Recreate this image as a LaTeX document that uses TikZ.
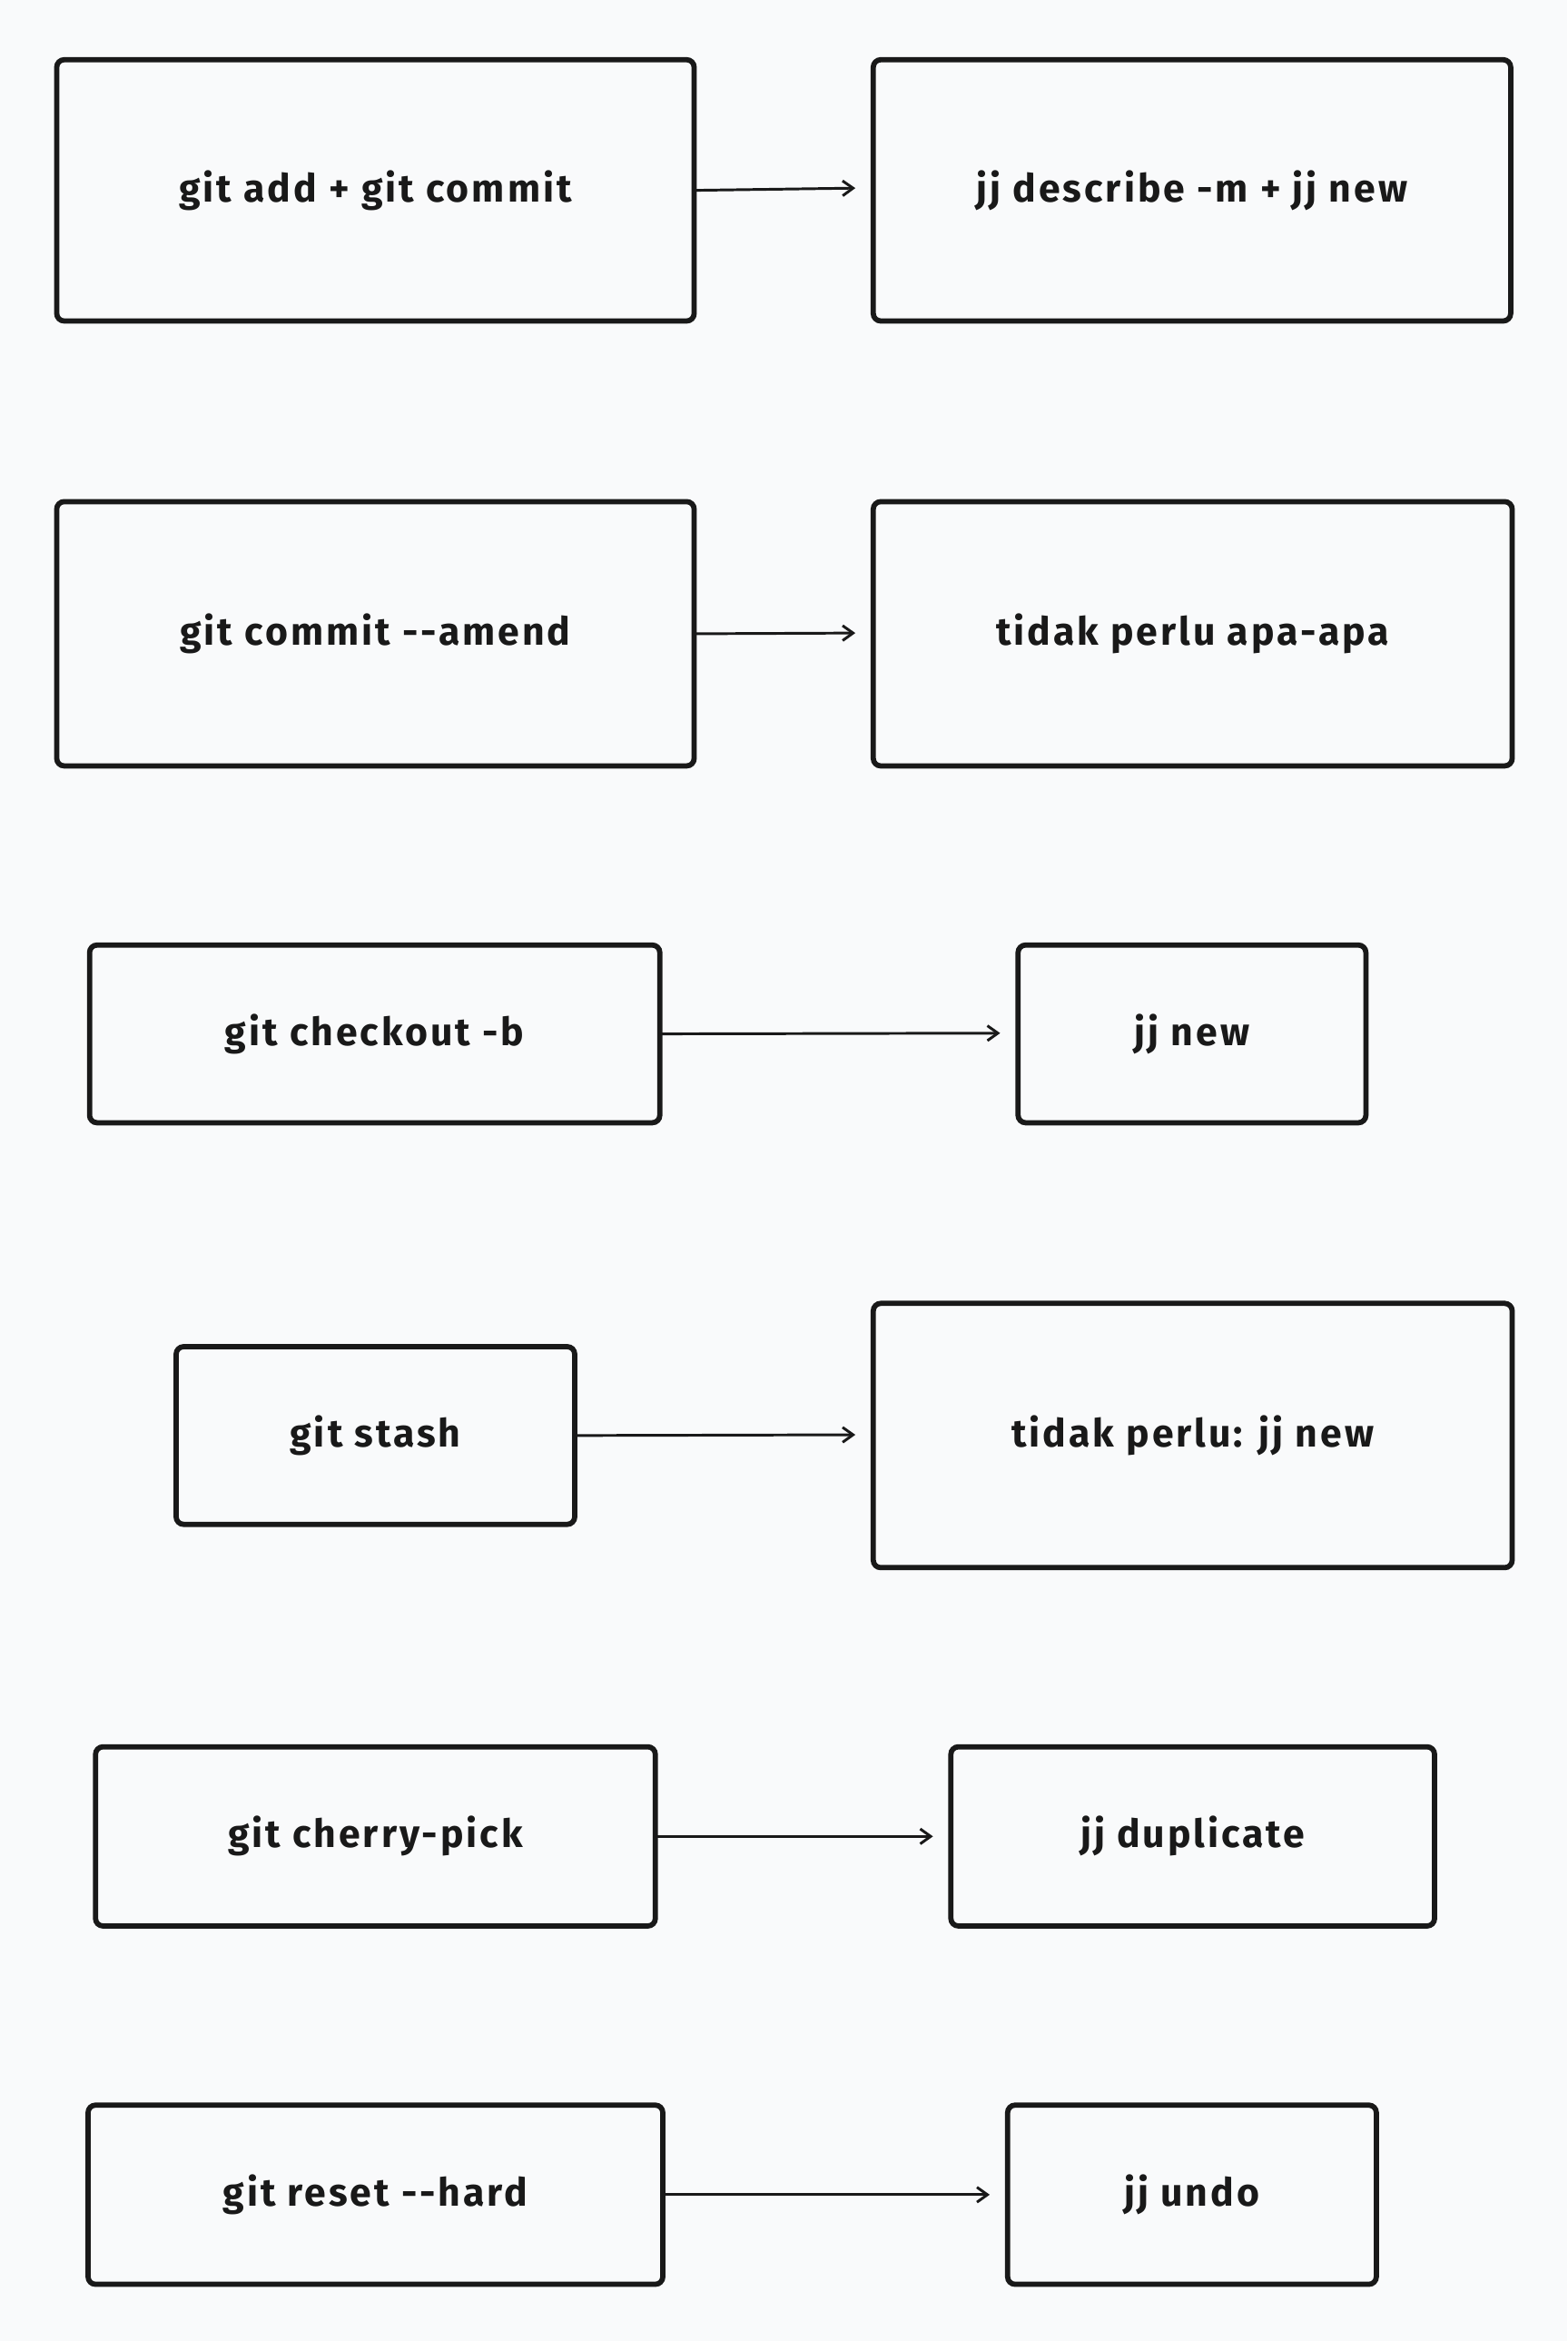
\documentclass[tikz,border=0pt]{standalone}
\usepackage{fontspec}
\setmainfont[LetterSpace=7]{Fira Sans}
\usetikzlibrary{arrows.meta}
\begin{document}
\begin{tikzpicture}[x=1pt,y=-1pt,
  box/.style={draw=black!90,line width=3.5pt,rounded corners=5pt},
  lbl/.style={font=\fontsize{26}{30}\selectfont\bfseries,text=black!90},
  arr/.style={draw=black!90,line width=1.8pt,-{Straight Barb[length=7pt,width=10pt]}}]
\fill[fill={rgb,255:red,249;green,250;blue,251}] (0,0) rectangle (1050,1568);
\useasboundingbox (0,0) rectangle (1050,1568);
\newcommand\bx[6]{\draw[box] (#2,#3) rectangle (#4,#5);
  \node[lbl] (#1) at ({(#2+#4)/2},{(#3+#5)/2}) {#6};
  \coordinate (#1w) at (#2,{(#3+#5)/2}); \coordinate (#1e) at (#4,{(#3+#5)/2});}
\bx{a1}{38}{40}{465}{215}{git add + git commit}
\bx{b1}{585}{40}{1012}{215}{jj describe -m + jj new}
\bx{a2}{38}{336}{465}{513}{git commit -{}-amend}
\bx{b2}{585}{336}{1013}{513}{tidak perlu apa-apa}
\bx{a3}{60}{633}{442}{752}{git checkout -b}
\bx{b3}{682}{633}{915}{752}{jj new}
\bx{a4}{118}{902}{385}{1021}{git stash}
\bx{b4}{585}{873}{1013}{1050}{tidak perlu: jj new}
\bx{a5}{64}{1170}{439}{1290}{git cherry-pick}
\bx{b5}{637}{1170}{961}{1290}{jj duplicate}
\bx{a6}{59}{1410}{444}{1530}{git reset -{}-hard}
\bx{b6}{675}{1410}{922}{1530}{jj undo}
\coordinate (t1) at (573,126);
\coordinate (t2) at (573,424);
\coordinate (t3) at (670,692);
\coordinate (t4) at (573,961);
\coordinate (t5) at (625,1230);
\coordinate (t6) at (663,1470);
\foreach \i in {1,...,6}{\draw[arr] (a\i e) -- (t\i);}
\end{tikzpicture}
\end{document}
